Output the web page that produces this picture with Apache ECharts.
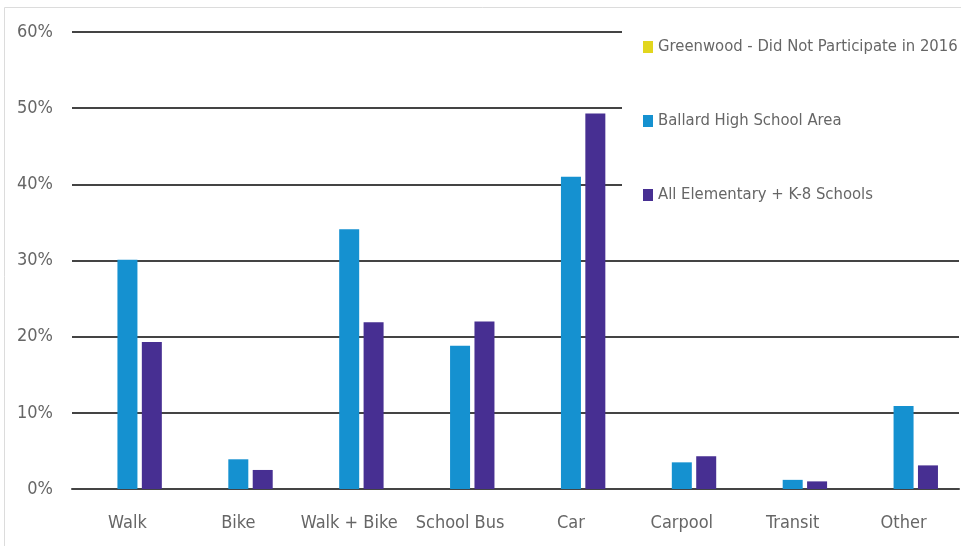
<!DOCTYPE html>
<html>
<head>
<meta charset="utf-8">
<script src="https://cdn.jsdelivr.net/npm/echarts@6/dist/echarts.min.js"></script>
<style>
html,body{margin:0;padding:0;background:#fff;}
#chart{width:961px;height:546px;}
</style>
</head>
<body>
<div id="chart"></div>
<script>
const categories = ['Walk', 'Bike', 'Walk + Bike', 'School Bus', 'Car', 'Carpool', 'Transit', 'Other'];
const seriesNames = ['Greenwood - Did Not Participate in 2016', 'Ballard High School Area', 'All Elementary + K-8 Schools'];
const greenwood = [null, null, null, null, null, null, null, null];
const ballard = [30.1, 3.9, 34.1, 18.8, 41.0, 3.5, 1.2, 10.9];
const allElementary = [19.3, 2.5, 21.9, 22.0, 49.3, 4.3, 1.0, 3.1];
const colors = ['#E2D61E', '#1591D0', '#472F92'];

const FONT = '"DejaVu Sans Condensed", "Roboto", sans-serif';
const chart = echarts.init(document.getElementById('chart'));
chart.setOption({
  animation: false,
  backgroundColor: '#fff',
  color: colors,
  graphic: [
    {type: 'line', shape: {x1: 4.5, y1: 7.5, x2: 4.5, y2: 546}, style: {stroke: '#dcdcdc', lineWidth: 1}},
    {type: 'line', shape: {x1: 4.5, y1: 7.5, x2: 961, y2: 7.5}, style: {stroke: '#dcdcdc', lineWidth: 1}}
  ],
  grid: {left: 72, right: 2, top: 32, bottom: 57, containLabel: false},
  legend: {
    orient: 'vertical',
    left: 622,
    top: 22,
    padding: [16, 10, 16, 21],
    backgroundColor: '#fff',
    itemWidth: 10,
    itemHeight: 12,
    itemGap: 56,
    icon: 'rect',
    textStyle: {fontFamily: FONT, fontSize: 16.5, color: '#666', lineHeight: 18},
    data: seriesNames
  },
  xAxis: {
    type: 'category',
    data: categories,
    axisTick: {show: false},
    axisLine: {show: true, lineStyle: {color: '#444', width: 2}},
    axisLabel: {interval: 0, fontFamily: FONT, fontSize: 18, color: '#666', margin: 25}
  },
  yAxis: {
    type: 'value',
    min: 0,
    max: 60,
    interval: 10,
    axisLine: {show: false},
    axisTick: {show: false},
    splitLine: {lineStyle: {color: '#444', width: 2}},
    axisLabel: {fontFamily: FONT, fontSize: 18, color: '#666', margin: 19, formatter: '{value}%'}
  },
  series: [
    {name: seriesNames[0], type: 'bar', data: greenwood, barWidth: 20, barGap: '22%'},
    {name: seriesNames[1], type: 'bar', data: ballard, barWidth: 20, barGap: '22%'},
    {name: seriesNames[2], type: 'bar', data: allElementary, barWidth: 20, barGap: '22%'}
  ]
});
</script>
</body>
</html>
